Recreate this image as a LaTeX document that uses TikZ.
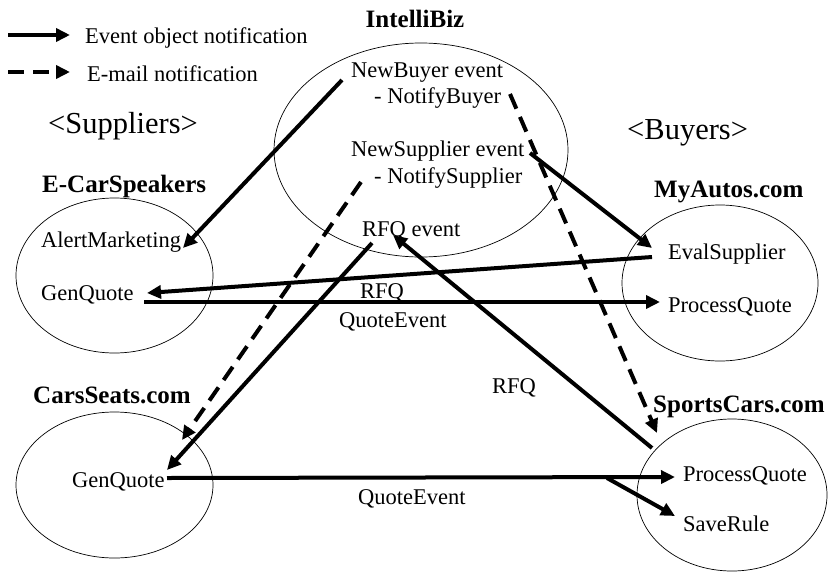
\documentclass[tikz,border=0pt]{standalone}
\usepackage{fontspec}
\setmainfont{Liberation Serif}
\usetikzlibrary{arrows.meta,shapes.geometric}
\begin{document}
\begin{tikzpicture}[x=1pt,y=-1pt,
  txt/.style={inner sep=0pt, anchor=base west, font=\fontsize{22.5}{27}\selectfont},
  ttl/.style={inner sep=0pt, anchor=base west, font=\fontsize{25}{30}\selectfont\bfseries},
  grp/.style={inner sep=0pt, anchor=base west, font=\fontsize{30.5}{36}\selectfont},
  party/.style={draw, ellipse, line width=0.7pt, inner sep=0pt},
  evt/.style={line width=4pt, -{Triangle[length=14pt,width=13pt]}},
  mail/.style={evt, dash pattern=on 16pt off 9pt},
]
\useasboundingbox (0,0) rectangle (829,573);

% legend
\coordinate (l1a) at (8,35);  \coordinate (l1b) at (70,35);
\coordinate (l2a) at (8,72);  \coordinate (l2b) at (70,72);
\draw[evt] (l1a) -- (l1b);
\draw[mail] (l2a) -- (l2b);
\node[txt] (lg1) at (85,43) {Event object notification};
\node[txt] (lg2) at (87,81) {E-mail notification};

% group headings
\node[grp] (sup) at (48,133) {<Suppliers>};
\node[grp] (buy) at (627,139) {<Buyers>};

% parties
\node[party, minimum width=294pt, minimum height=214pt] (ib) at (421,150) {};
\node[party, minimum width=197pt, minimum height=155pt] (ecs) at (114.5,275.5) {};
\node[party, minimum width=196pt, minimum height=156pt] (mya) at (720,283) {};
\node[party, minimum width=197pt, minimum height=146pt] (css) at (114.5,485) {};
\node[party, minimum width=190pt, minimum height=152pt] (spc) at (732,495) {};

% titles
\node[ttl, anchor=base] (ibt) at (415,27) {IntelliBiz};
\node[ttl] (ecst) at (42,192) {E-CarSpeakers};
\node[ttl] (myat) at (654,197) {MyAutos.com};
\node[ttl] (csst) at (33,403) {CarsSeats.com};
\node[ttl] (spct) at (653,412) {SportsCars.com};

% IntelliBiz events
\node[txt] (nb)  at (351,77)  {NewBuyer event};
\node[txt] (nbn) at (374,103) {- NotifyBuyer};
\node[txt] (ns)  at (351,156) {NewSupplier event};
\node[txt] (nsn) at (374,183) {- NotifySupplier};
\node[txt] (rfq) at (362,236) {RFQ event};

% handlers
\node[txt] (am)  at (41,247)  {AlertMarketing};
\node[txt] (gq1) at (41,300)  {GenQuote};
\node[txt] (es)  at (668,259) {EvalSupplier};
\node[txt] (pq1) at (668,312) {ProcessQuote};
\node[txt] (gq2) at (72,487)  {GenQuote};
\node[txt] (pq2) at (683,481) {ProcessQuote};
\node[txt] (sr)  at (683,531) {SaveRule};

% connector ends
\coordinate (nbL) at (342,80);   \coordinate (amR) at (183,248);
\coordinate (nbnR) at (510,94);  \coordinate (spcT) at (657,433);
\coordinate (nsR) at (530,153);  \coordinate (esL) at (652,248);
\coordinate (nsnL) at (361,182); \coordinate (gq2T) at (182,440);
\coordinate (rfqB) at (372,243); \coordinate (gq2R) at (167,470);
\coordinate (esL2) at (652,257); \coordinate (gq1R) at (147,293);
\coordinate (gq1S) at (144,302); \coordinate (pq1L) at (660,302);
\coordinate (spcL) at (652,448); \coordinate (rfqE) at (393,235);
\coordinate (gq2S) at (167,478); \coordinate (pq2L) at (675,477);
\coordinate (fork) at (607,478); \coordinate (srL) at (675,516);

% notifications
\draw[evt] (nbL) -- (amR);
\draw[mail] (nbnR) -- (spcT);
\draw[evt] (nsR) -- (esL);
\draw[mail] (nsnL) -- (gq2T);
\draw[evt] (rfqB) -- (gq2R);
\draw[evt] (esL2) -- (gq1R);
\draw[evt] (gq1S) -- (pq1L);
\draw[evt] (spcL) -- (rfqE);
\draw[evt] (gq2S) -- (pq2L);
\draw[evt] (fork) -- (srL);

% connector labels
\node[txt] (r1) at (360,298) {RFQ};
\node[txt] (q1) at (339,327) {QuoteEvent};
\node[txt] (r2) at (492,393) {RFQ};
\node[txt] (q2) at (358,504) {QuoteEvent};
\end{tikzpicture}
\end{document}
